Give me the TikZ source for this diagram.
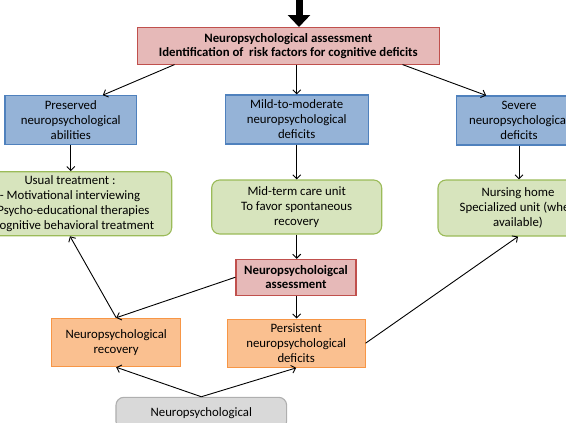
\documentclass[tikz,border=0pt]{standalone}
\usepackage{fontspec}
\setmainfont{Carlito}
\usetikzlibrary{arrows.meta}

\definecolor{redfill}{RGB}{230,185,184}
\definecolor{reddraw}{RGB}{192,80,77}
\definecolor{bluefill}{RGB}{149,179,215}
\definecolor{bluedraw}{RGB}{79,129,189}
\definecolor{greenfill}{RGB}{215,228,189}
\definecolor{greendraw}{RGB}{155,187,89}
\definecolor{orangefill}{RGB}{250,192,144}
\definecolor{orangedraw}{RGB}{247,150,70}
\definecolor{grayfill}{RGB}{217,217,217}
\definecolor{graydraw}{RGB}{175,175,175}

\tikzset{
  box/.style={draw, line width=1.1pt, inner sep=0pt, align=center,
    font=\fontsize{12.8}{15}\selectfont},
  redbox/.style={box, fill=redfill, draw=reddraw, font=\fontsize{12.8}{14.4}\selectfont\bfseries},
  bluebox/.style={box, fill=bluefill, draw=bluedraw},
  greenbox/.style={box, fill=greenfill, draw=greendraw, rounded corners=8pt},
  orangebox/.style={box, fill=orangefill, draw=orangedraw},
  graybox/.style={box, fill=grayfill, draw=graydraw, rounded corners=8pt},
  link/.style={-{Straight Barb[length=4pt,width=8pt]}, line width=0.9pt},
  bigarrow/.style={-{Triangle[length=12pt,width=22pt]}, line width=7pt}
}

\begin{document}
\begin{tikzpicture}[x=1pt,y=1pt,yscale=-1]
    \useasboundingbox (0,0) rectangle (566,423);
    \clip (0,0) rectangle (566,423);

    %Shape: Rectangle (top)
    \node[redbox, minimum width=301.5, minimum height=36.5] (assess) at (288.3,45.8)
      {Neuropsychological assessment\\Identification of~ risk factors for cognitive deficits};
    \coordinate (start) at (299,-6);

    %Shape: Rectangle (blue row)
    \node[bluebox, minimum width=131.7, minimum height=48.6] (pres) at (70.8,120)
      {Preserved\\neuropsychological\\abilities};
    \node[bluebox, minimum width=143.3, minimum height=49] (mild) at (296.7,119.5)
      {Mild-to-moderate\\neuropsychological\\deficits};
    \node[bluebox, minimum width=124.6, minimum height=49] (severe) at (519,120.5)
      {Severe\\neuropsychological\\deficits};

    %Rounded Rect (green row)
    \node[greenbox, minimum width=203.4, minimum height=64] (usual) at (70,203.7)
      {Usual treatment :\\- Motivational interviewing\\\phantom{- }Psycho-educational therapies\\\phantom{- }Cognitive behavioral treatment};
    \node[greenbox, minimum width=170, minimum height=54] (midterm) at (296.7,207)
      {Mid-term care unit\\To favor spontaneous\\recovery};
    \node[greenbox, minimum width=160, minimum height=56] (nursing) at (518,208)
      {Nursing home\\Specialized unit (whe\phantom{n}\\available)};

    %Shape: Rectangle (second assessment)
    \node[redbox, minimum width=120, minimum height=35.7] (assess2) at (296,277.2)
      {Neuropsycholoigcal\\assessment};

    %Shape: Rectangle (orange row)
    \node[orangebox, minimum width=129, minimum height=48.4] (recov) at (116.2,342.5)
      {Neuropsychological\\recovery};
    \node[orangebox, minimum width=137.7, minimum height=48.3] (persist) at (296.2,343.2)
      {Persistent\\neuropsychological\\deficits};

    %Rounded Rect (bottom, cut by the frame)
    \node[graybox, minimum width=170.7, minimum height=32] (follow) at (201.3,413.3)
      {Neuropsychological};

    %Straight Lines
    \draw[bigarrow] (start) -- (start |- assess.north);
    \draw[link] ([xshift=37.5pt]assess.south west) -- ([xshift=32pt]pres.north);
    \draw[link] (assess.south -| mild.north) -- (mild.north);
    \draw[link] ([xshift=-37pt]assess.south east) -- ([xshift=30pt]severe.north west);
    \draw[link] (pres.south) -- (pres.south |- usual.north);
    \draw[link] (mild.south) -- (midterm.north -| mild.south);
    \draw[link] (severe.south) -- (nursing.north -| severe.south);
    \draw[link] (midterm.south) -- (assess2.north -| midterm.south);
    \draw[link] (assess2.south -| midterm.south) -- (persist.north -| midterm.south);
    \draw[link] (assess2.west) -- (recov.north);
    \draw[link] (recov.north) -- (usual.south);
    \draw[link] (persist.east) -- (nursing.south);
    \draw[link] (follow.north) -- (recov.south);
    \draw[link] (follow.north) -- (persist.south);
\end{tikzpicture}
\end{document}
